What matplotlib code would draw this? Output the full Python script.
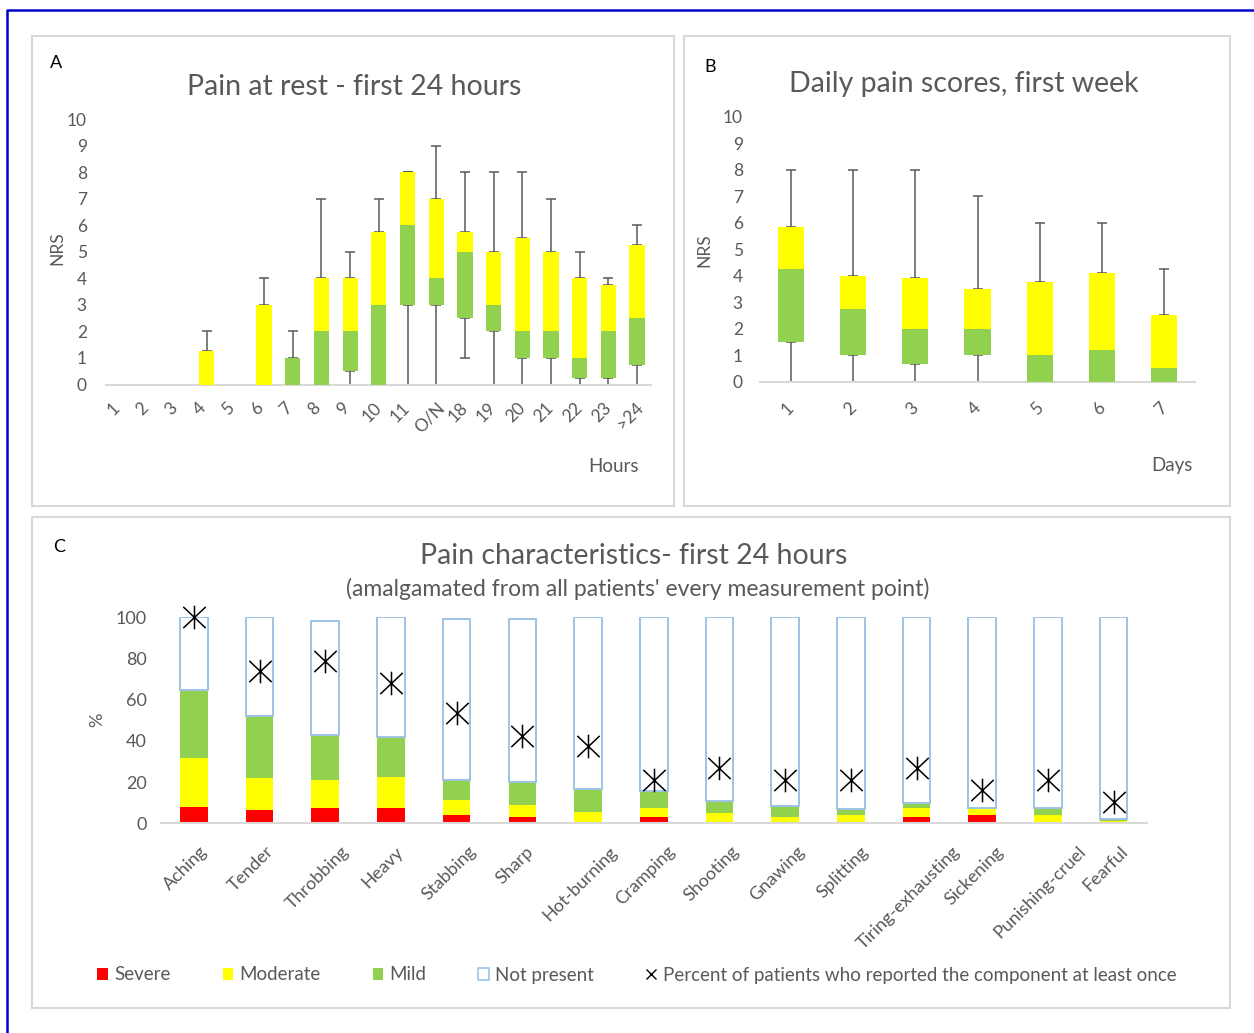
import numpy as np
import matplotlib
matplotlib.use("Agg")
import matplotlib.pyplot as plt
from matplotlib.patches import Rectangle, Patch
from matplotlib.lines import Line2D
from matplotlib.path import Path
import matplotlib.transforms as mtransforms

W, H = 1254, 1033

# Panel A - pain at rest, first 24 hours (box = Q1-median-Q3, whiskers = min/max)
hours = ['1', '2', '3', '4', '5', '6', '7', '8', '9', '10', '11', 'O/N',
         '18', '19', '20', '21', '22', '23', '>24']
a_min = [0, 0, 0, 0, 0, 0, 0, 0, 0, 0, 0, 0, 1, 0, 0, 0, 0, 0, 0]
a_q1 = [0, 0, 0, 0, 0, 0, 0, 0, 0.5, 0, 3, 3, 2.5, 2, 1, 1, 0.25, 0.25, 0.75]
a_med = [0, 0, 0, 0, 0, 0, 1, 2, 2, 3, 6, 4, 5, 3, 2, 2, 1, 2, 2.5]
a_q3 = [0, 0, 0, 1.25, 0, 3, 1, 4, 4, 5.75, 8, 7, 5.75, 5, 5.5, 5, 4, 3.75, 5.25]
a_max = [0, 0, 0, 2, 0, 4, 2, 7, 5, 7, 8, 9, 8, 8, 8, 7, 5, 4, 6]

# Panel B - daily pain scores, first week
days = ['1', '2', '3', '4', '5', '6', '7']
b_min = [0, 0, 0, 0, 0, 0, 0]
b_q1 = [1.5, 1, 0.65, 1, 0, 0, 0]
b_med = [4.25, 2.75, 2, 2, 1, 1.2, 0.5]
b_q3 = [5.85, 4, 3.9, 3.5, 3.75, 4.1, 2.5]
b_max = [8, 8, 8, 7, 6, 6, 4.25]

# Panel C - pain characteristics (%)
components = ['Aching', 'Tender', 'Throbbing', 'Heavy', 'Stabbing', 'Sharp',
              'Hot-burning', 'Cramping', 'Shooting', 'Gnawing', 'Splitting',
              'Tiring-exhausting', 'Sickening', 'Punishing-cruel', 'Fearful']
severe = [8.1, 6.5, 7.3, 7.3, 4.0, 3.2, 0.5, 3.2, 0.3, 0.8, 0.3, 3.2, 4.0, 0.8, 0.5]
moderate = [23.6, 15.3, 13.7, 15.3, 7.3, 5.7, 5.2, 4.1, 4.5, 2.4, 3.7, 4.1, 2.8, 3.2, 0.7]
mild = [33.0, 30.4, 21.7, 19.1, 9.7, 11.0, 10.8, 8.4, 6.0, 5.2, 2.8, 2.7, 0.5, 3.6, 0.9]
not_present = [35.3, 47.8, 55.6, 58.3, 78.0, 79.1, 83.5, 84.3, 89.2, 91.6, 93.2, 90.0, 92.7, 92.4, 97.9]
reported_once = [100, 74, 78.8, 68.2, 53.4, 42.4, 37.5, 21, 26.7, 21, 21, 26.7, 16.2, 21, 10.5]

plt.rcParams['font.family'] = ['Lato', 'DejaVu Sans']

GREY = '#595959'
LINE = '#D9D9D9'
GREEN = '#92D050'
YELLOW = '#FFFF00'
RED = '#FF0000'
EDGE = '#9DC3E6'


def fx(px):
    return px / W


def fy(py):
    return 1 - py / H


def px_axes(left, top, right, bottom):
    return [fx(left), fy(bottom), (right - left) / W, (bottom - top) / H]


def style_axes(ax, fontsize):
    for s in ['left', 'top', 'right']:
        ax.spines[s].set_visible(False)
    ax.spines['bottom'].set_color(LINE)
    ax.spines['bottom'].set_linewidth(1.5)
    ax.tick_params(length=0, colors=GREY, labelsize=fontsize)


def rotate_labels(ax, dx):
    # excel style: rotated label box centred under the tick, top aligned
    offset = mtransforms.ScaledTranslation(dx / 100, 0, ax.figure.dpi_scale_trans)
    for lab in ax.get_xticklabels():
        lab.set_rotation(45)
        lab.set_ha('center')
        lab.set_va('top')
        lab.set_transform(lab.get_transform() + offset)


def box_panel(ax, labels, vmin, q1, med, q3, vmax, width, capsize):
    x = np.arange(len(labels))
    vmin, q1, med, q3, vmax = map(np.asarray, (vmin, q1, med, q3, vmax))
    show = vmax > 0
    xs = x[show]
    zero = np.zeros(show.sum())
    ax.errorbar(xs, q3[show], yerr=[zero, (vmax - q3)[show]], fmt='none',
                ecolor=GREY, elinewidth=1.1, capsize=capsize, capthick=1.1, zorder=2)
    ax.errorbar(xs, q1[show], yerr=[(q1 - vmin)[show], zero], fmt='none',
                ecolor=GREY, elinewidth=1.1, capsize=capsize, capthick=1.1, zorder=2)
    ax.bar(xs, (med - q1)[show], bottom=q1[show], width=width, color=GREEN, zorder=3)
    ax.bar(xs, (q3 - med)[show], bottom=med[show], width=width, color=YELLOW, zorder=3)
    ax.set_xlim(-0.5, len(labels) - 0.5)
    ax.set_ylim(0, 10)
    ax.set_yticks(range(11))
    ax.set_xticks(x, labels)


fig = plt.figure(figsize=(W / 100, H / 100), dpi=100)

# outer blue frame and panel borders
fig.add_artist(Line2D([fx(7), fx(7), fx(1270)], [fy(1050), fy(10), fy(10)],
                      transform=fig.transFigure, color='#0000CD', lw=1.8))
for l, t, r, b in [(32, 36, 674, 506), (684, 36, 1230, 506), (32, 517, 1230, 1008)]:
    fig.add_artist(Rectangle((fx(l), fy(b)), (r - l) / W, (b - t) / H,
                             transform=fig.transFigure, fill=False, ec=LINE, lw=1.5))

# ---- panel A
axA = fig.add_axes(px_axes(106.3, 119, 651.4, 384.5))
box_panel(axA, hours, a_min, a_q1, a_med, a_q3, a_max, 0.53, 3.3)
style_axes(axA, 12.5)
axA.tick_params(axis='y', pad=14)
axA.tick_params(axis='x', pad=11)
rotate_labels(axA, -7)

# ---- panel B
axB = fig.add_axes(px_axes(759.6, 116.7, 1195.4, 381.7))
box_panel(axB, days, b_min, b_q1, b_med, b_q3, b_max, 0.42, 3.3)
style_axes(axB, 12.5)
axB.tick_params(axis='y', pad=12)
axB.tick_params(axis='x', pad=13)
rotate_labels(axB, -3)

# ---- panel C
axC = fig.add_axes(px_axes(161, 617.3, 1146.5, 823.3))
xc = np.arange(len(components))
bw = 0.42
b0 = np.zeros(len(components))
for vals, col in [(severe, RED), (moderate, YELLOW), (mild, GREEN)]:
    axC.bar(xc, vals, bottom=b0, width=bw, color=col, zorder=2)
    b0 = b0 + np.asarray(vals)
axC.bar(xc, not_present, bottom=b0, width=bw, color='white', edgecolor=EDGE,
        linewidth=1.4, zorder=2)
star = Path([(0, -1), (0, 1), (-0.95, -0.9), (0.95, 0.9), (-0.95, 0.9), (0.95, -0.9)],
            [Path.MOVETO, Path.LINETO, Path.MOVETO, Path.LINETO, Path.MOVETO, Path.LINETO])
axC.plot(xc, reported_once, linestyle='none', marker=star, markersize=17,
         markeredgecolor='black', markerfacecolor='none', markeredgewidth=1.1,
         clip_on=False, zorder=4)
axC.set_xlim(-0.5, len(components) - 0.5)
axC.set_ylim(0, 100)
axC.set_yticks(range(0, 101, 20))
axC.set_xticks(xc, components)
style_axes(axC, 13)
axC.tick_params(axis='y', pad=10)
axC.tick_params(axis='x', pad=14.5)
rotate_labels(axC, -8)

# ---- titles and labels
fig.text(fx(354.5), fy(87), 'Pain at rest - first 24 hours', ha='center', va='center',
         fontsize=20.5, color=GREY)
fig.text(fx(964), fy(84), 'Daily pain scores, first week', ha='center', va='center',
         fontsize=20.5, color=GREY)
fig.text(fx(634), fy(556), 'Pain characteristics- first 24 hours', ha='center', va='center',
         fontsize=20.5, color=GREY)
fig.text(fx(638), fy(589), "(amalgamated from all patients' every measurement point)",
         ha='center', va='center', fontsize=16.5, color=GREY)
fig.text(fx(56), fy(63), 'A', ha='center', va='center', fontsize=13, color='black')
fig.text(fx(710), fy(67), 'B', ha='center', va='center', fontsize=13, color='black')
fig.text(fx(59), fy(547), 'C', ha='center', va='center', fontsize=13, color='black')
fig.text(fx(613), fy(466), 'Hours', ha='center', va='center', fontsize=13.5, color=GREY)
fig.text(fx(1172), fy(466), 'Days', ha='center', va='center', fontsize=13.5, color=GREY)
fig.text(fx(57), fy(248), 'NRS', ha='center', va='center', rotation=90, fontsize=12.5, color=GREY)
fig.text(fx(704), fy(250), 'NRS', ha='center', va='center', rotation=90, fontsize=12.5, color=GREY)
fig.text(fx(97), fy(720), '%', ha='center', va='center', rotation=90, fontsize=13, color=GREY)

handles = [Patch(facecolor=RED), Patch(facecolor=YELLOW), Patch(facecolor=GREEN),
           Patch(facecolor='white', edgecolor=EDGE, linewidth=1.2),
           Line2D([], [], linestyle='none', marker='x', color='black', markersize=6.5)]
labels = ['Severe', 'Moderate', 'Mild', 'Not present',
          'Percent of patients who reported the component at least once']
leg = fig.legend(handles, labels, loc='center', bbox_to_anchor=(fx(637), fy(975)),
                 ncol=5, frameon=False, fontsize=13.5, handlelength=0.55,
                 handleheight=0.55, handletextpad=0.35, columnspacing=2.77)
for t in leg.get_texts():
    t.set_color(GREY)

fig.savefig('out.png', dpi=100)
